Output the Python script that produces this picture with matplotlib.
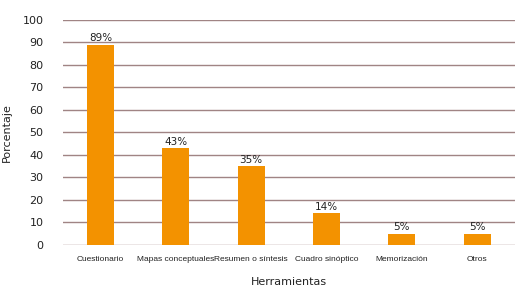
import matplotlib
matplotlib.use("Agg")
import matplotlib.pyplot as plt

categories = ["Cuestionario", "Mapas conceptuales", "Resumen o síntesis",
              "Cuadro sinóptico", "Memorización", "Otros"]
values = [89, 43, 35, 14, 5, 5]
labels = ["89%", "43%", "35%", "14%", "5%", "5%"]
yticks = [0, 10, 20, 30, 40, 50, 60, 70, 80, 90, 100]

ORANGE = "#F39200"
GRID = "#A08484"

fig = plt.figure(figsize=(5.29, 3.02), dpi=100)
ax = fig.add_axes([0.119, 0.189, 0.854, 0.745])

x = range(len(categories))
ax.bar(x, values, width=0.36, color=ORANGE, zorder=3)
for xi, v, lab in zip(x, values, labels):
    ax.text(xi, v + 0.6, lab, ha="center", va="bottom", fontsize=7.5,
            color="#222222", zorder=4)

ax.set_ylim(0, 100)
ax.set_xlim(-0.5, len(categories) - 0.5)
ax.set_yticks(yticks)
ax.yaxis.grid(True, color=GRID, linewidth=1.0, zorder=0)
ax.set_axisbelow(True)
for s in ax.spines.values():
    s.set_visible(False)
ax.tick_params(axis="y", length=0, pad=14, labelsize=8, labelcolor="#222222")
ax.tick_params(axis="x", length=0, pad=8)
ax.set_xticks(list(x))
ax.set_xticklabels(categories, fontsize=6, family="Liberation Sans",
                   color="#222222")
ax.set_ylabel("Porcentaje", fontsize=8, labelpad=8, color="#222222")
ax.set_xlabel("Herramientas", fontsize=8, labelpad=10, color="#222222")

fig.savefig("out.png", dpi=100)
